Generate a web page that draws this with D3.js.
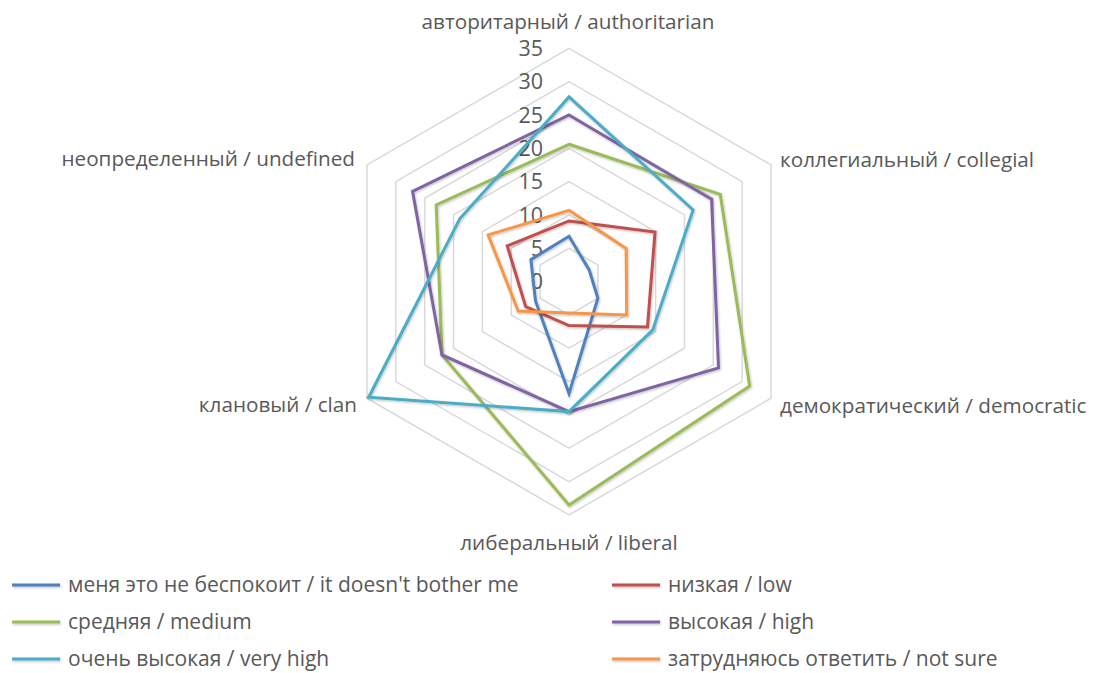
<!DOCTYPE html>
<html>
<head>
<meta charset="utf-8">
<script src="https://cdn.jsdelivr.net/npm/d3@7"></script>
<style>
  html, body { margin: 0; padding: 0; background: #fff; }
  svg { display: block; }
  text { font-family: "Open Sans", sans-serif; fill: #595959; }
</style>
</head>
<body>
<svg id="chart" width="1097" height="673"></svg>
<script>
const categories = [
  "авторитарный / authoritarian",
  "коллегиальный / collegial",
  "демократический / democratic",
  "либеральный / liberal",
  "клановый / clan",
  "неопределенный / undefined"
];
const seriesNames = [
  "меня это не беспокоит / it doesn't bother me",
  "низкая / low",
  "средняя / medium",
  "высокая / high",
  "очень высокая / very high",
  "затрудняюсь ответить / not sure"
];
const notBothered = [6.8, 3.5, 5.0, 16.8, 5.8, 6.6];
const low         = [9.1, 14.9, 13.6, 6.6, 7.5, 10.7];
const medium      = [20.6, 26.2, 31.3, 33.5, 22.0, 23.0];
const high        = [25.0, 24.7, 25.9, 19.5, 22.0, 27.1];
const veryHigh    = [27.7, 21.5, 14.5, 19.5, 34.7, 18.9];
const notSure     = [10.7, 9.9, 10.0, 4.7, 8.8, 14.0];
const tickValues  = [0, 5, 10, 15, 20, 25, 30, 35];
const colors = ["#4F81BD", "#C0504D", "#9BBB59", "#8064A2", "#4BACC6", "#F79646"];

const series = [notBothered, low, medium, high, veryHigh, notSure];

const svg = d3.select("#chart");
const cx = 569, cy = 281.6;
const r = d3.scaleLinear().domain([0, 35]).range([0, 233.3]);
const angle = d3.scalePoint().domain(d3.range(categories.length + 1)).range([0, 2 * Math.PI]);
const ang = i => angle(i % categories.length);
const pt = (i, v) => [cx + r(v) * Math.sin(ang(i)), cy - r(v) * Math.cos(ang(i))];

const defs = svg.append("defs");
const f = defs.append("filter").attr("id", "shadow")
  .attr("filterUnits", "userSpaceOnUse")
  .attr("x", 0).attr("y", 0).attr("width", 1097).attr("height", 673);
f.append("feDropShadow").attr("dx", 0.8).attr("dy", 1.2).attr("stdDeviation", 1.2).attr("flood-color", "#000").attr("flood-opacity", 0.25);

// grid rings
const g = svg.append("g");
tickValues.filter(t => t > 0).forEach(t => {
  const pts = categories.map((c, i) => pt(i, t));
  g.append("polygon")
    .attr("points", pts.map(p => p.join(",")).join(" "))
    .attr("fill", "none")
    .attr("stroke", "#d9d9d9")
    .attr("stroke-width", 1.5);
});

// tick labels
svg.append("g").selectAll("text").data(tickValues).join("text")
  .attr("x", 543)
  .attr("y", d => cy - r(d))
  .attr("dy", "0.36em")
  .attr("text-anchor", "end")
  .style("font-size", "21.5px")
  .text(d => d);

// series
const line = d3.line().curve(d3.curveLinearClosed);
svg.append("g").selectAll("path").data(series).join("path")
  .attr("d", vals => line(vals.map((v, i) => pt(i, v))))
  .attr("fill", "none")
  .attr("stroke", (d, i) => colors[i])
  .attr("stroke-width", 3)
  .attr("stroke-linejoin", "miter")
  .attr("filter", "url(#shadow)");

// category labels
const labelPos = [
  {x: 568, y: 29, anchor: "middle"},
  {x: 780, y: 166.5, anchor: "start"},
  {x: 780, y: 413, anchor: "start"},
  {x: 569, y: 550, anchor: "middle"},
  {x: 357, y: 412, anchor: "end"},
  {x: 355, y: 166, anchor: "end"}
];
svg.append("g").selectAll("text").data(categories).join("text")
  .attr("x", (d, i) => labelPos[i].x)
  .attr("y", (d, i) => labelPos[i].y)
  .attr("text-anchor", (d, i) => labelPos[i].anchor)
  .style("font-size", "20.7px")
  .text(d => d);

// legend
const legend = svg.append("g");
seriesNames.forEach((name, i) => {
  const col = i % 2, row = Math.floor(i / 2);
  const x0 = col === 0 ? 12 : 612;
  const y0 = 585 + row * 37;
  legend.append("line")
    .attr("x1", x0).attr("x2", x0 + 48)
    .attr("y1", y0).attr("y2", y0)
    .attr("stroke", colors[i]).attr("stroke-width", 3)
    .attr("filter", "url(#shadow)");
  legend.append("text")
    .attr("x", x0 + 56).attr("y", y0)
    .attr("dy", "0.35em")
    .style("font-size", "21px")
    .text(name);
});
</script>
</body>
</html>
